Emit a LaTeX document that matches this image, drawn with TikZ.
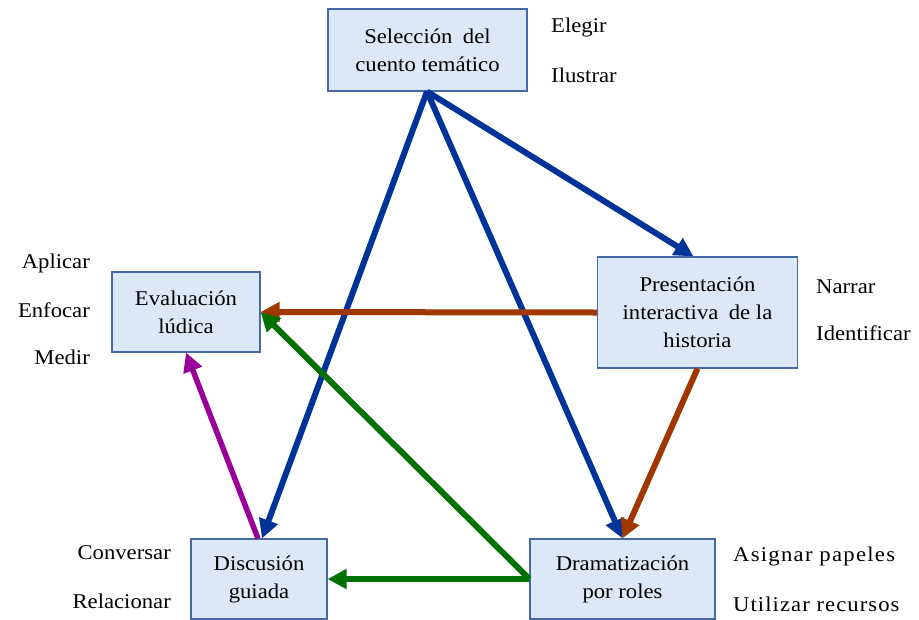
\documentclass[tikz,border=0pt]{standalone}
\usepackage{fontspec}
\setmainfont{Liberation Serif}[FakeStretch=1.08]
\usetikzlibrary{arrows.meta,calc}
\definecolor{boxfill}{RGB}{218,232,248}
\definecolor{boxline}{RGB}{70,105,165}
\definecolor{cblue}{RGB}{0,51,153}
\definecolor{cbrown}{RGB}{160,55,0}
\definecolor{cgreen}{RGB}{0,112,0}
\definecolor{cpurple}{RGB}{153,0,153}
\begin{document}
\begin{tikzpicture}[x=1pt,y=-1pt,
  stagebox/.style={draw=boxline,fill=boxfill,line width=1.1pt,align=center,
    font=\fontsize{21}{28}\selectfont,inner sep=0pt},
  lbl/.style={inner sep=0pt,font=\fontsize{21}{23}\selectfont},
  conn/.style={line width=6pt,-{Triangle[length=19pt,width=19pt]}},
]
\useasboundingbox (0,0) rectangle (919,619);
% boxes
\node[stagebox,minimum width=199pt,minimum height=82pt] (sel) at (427.5,50) {Selección\enspace del\\cuento temático};
\node[stagebox,minimum width=200pt,minimum height=111pt] (pres) at (697.5,312.5) {Presentación\\interactiva\enspace de la\\historia};
\node[stagebox,minimum width=148pt,minimum height=80pt] (eval) at (186,312) {Evaluación\\lúdica};
\node[stagebox,minimum width=136pt,minimum height=80pt] (disc) at (259,579) {Discusión\\guiada};
\node[stagebox,minimum width=185pt,minimum height=80pt] (dram) at (622.5,579) {Dramatización\\por roles};
% labels
\node[lbl,anchor=west] (l1) at (551,27) {Elegir};
\node[lbl,anchor=west] (l2) at (551,75) {Ilustrar};
\node[lbl,anchor=west] (l3) at (816,287) {Narrar};
\node[lbl,anchor=west] (l4) at (816,333) {Identificar};
\node[lbl,anchor=east] (l5) at (90,263) {Aplicar};
\node[lbl,anchor=east] (l6) at (90,310) {Enfocar};
\node[lbl,anchor=east] (l7) at (90,357) {Medir};
\node[lbl,anchor=east] (l8) at (171,553) {Conversar};
\node[lbl,anchor=east] (l9) at (171,601) {Relacionar};
\node[lbl,anchor=west] (l10) at (733,556) {\addfontfeature{LetterSpace=6}Asignar papeles};
\node[lbl,anchor=west] (l11) at (733,604) {\addfontfeature{LetterSpace=5}Utilizar recursos};
% connectors
\coordinate (s0) at ($(sel.south)+(-0.5,0)$);
\draw[conn,cblue] (s0) -- ($(pres.north)+(-4,0)$);
\draw[conn,cblue] (s0) -- ($(disc.north)+(3,0)$);
\draw[conn,cblue] (s0) -- (dram.north);
\draw[conn,cbrown] (pres.west) -- (eval.east);
\draw[conn,cbrown] (pres.south) -- (dram.north);
\draw[conn,cgreen] (dram.west) -- (eval.east);
\draw[conn,cgreen] (dram.west) -- (disc.east);
\draw[conn,cpurple,line width=5.5pt] ($(disc.north)+(-1,0)$) -- (eval.south);
\end{tikzpicture}
\end{document}
